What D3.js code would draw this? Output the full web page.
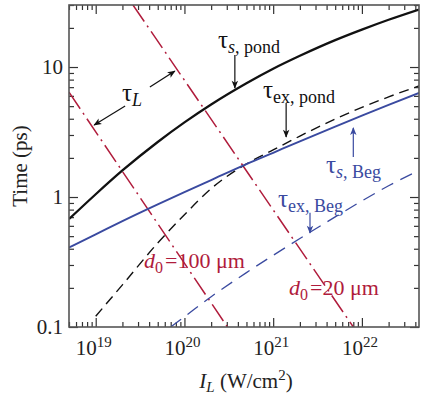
<!DOCTYPE html>
<html>
<head>
<meta charset="utf-8">
<script src="https://cdn.jsdelivr.net/npm/d3@7"></script>
<style>
body{margin:0;background:#fff;}
text{font-family:"Liberation Serif","Times New Roman",serif;}
</style>
</head>
<body>
<div id="chart"></div>
<script>
// valores: intensidad (W/cm2) y tiempos (ps)
var intensidad = [5e18,1e19,2e19,5e19,1e20,2e20,5e20,1e21,2e21,5e21,1e22,2e22,4.4e22];
var tauSPond   = [0.676,1.05,1.6,2.65,3.75,5.15,7.5,9.7,12.2,16.1,19.4,23.1,27.7];
var tauSBeg    = [0.409,0.516,0.652,0.877,1.09,1.35,1.79,2.19,2.68,3.48,4.23,5.12,6.32];

var intensidadExPond = [1e19,2e19,5e19,1e20,2e20,5e20,1e21,2e21,5e21,1e22,2e22,4.4e22];
var tauExPond        = [0.121,0.211,0.443,0.73,1.16,1.8,2.3,2.94,3.98,4.9,5.89,7.16];

var intensidadExBeg = [7e19,1e20,2e20,5e20,1e21,2e21,5e21,1e22,2e22,4.4e22];
var tauExBeg        = [0.1,0.12,0.171,0.262,0.356,0.479,0.703,0.933,1.22,1.6];

// tau_L para d0 = 100 um y d0 = 20 um (rectas en log-log)
var intensidadL100 = [5e18,3.05e20];
var tauL100        = [6.4,0.1];
var intensidadL20  = [2.63e19,8.0e21];
var tauL20         = [30,0.1];

var ticksX = [1e19,1e20,1e21,1e22];
var etiquetasX = ["19","20","21","22"];
var ticksY = [0.1,1,10];
var etiquetasY = ["0.1","1","10"];

var W = 421, H = 398;
var m = {l:69, t:5, r:2, b:71};
var ancho = W - m.l - m.r;
var alto = H - m.t - m.b;

var rojo = "#b01c3c", azul = "#3a4aa0";

var svg = d3.select("#chart").append("svg")
	.attr("width", W)
	.attr("height", H)
	.attr("font-family", "Liberation Serif, Times New Roman, serif");

var x = d3.scaleLog().domain([5e18, 4.4e22]).range([m.l, m.l + ancho]);
var y = d3.scaleLog().domain([0.1, 30]).range([m.t + alto, m.t]);

var defs = svg.append("defs");
defs.append("clipPath").attr("id","area")
	.append("rect").attr("x", m.l).attr("y", m.t).attr("width", ancho).attr("height", alto);
[["flechaNegra","#111"],["flechaAzul",azul]].forEach(function(f){
	defs.append("marker")
		.attr("id", f[0])
		.attr("viewBox","0 0 10 10")
		.attr("refX", 9).attr("refY", 5)
		.attr("markerWidth", 10).attr("markerHeight", 8)
		.attr("markerUnits","userSpaceOnUse")
		.attr("orient","auto")
		.append("path").attr("d","M0,1 L10,5 L0,9 L2.5,5 Z").attr("fill", f[1]);
});

// ticks (hacia adentro, en los cuatro lados)
var menoresX = x.ticks().filter(function(d){ return ticksX.indexOf(d) < 0; });
var menoresY = y.ticks().filter(function(d){ return [0.1,1,10].indexOf(+d.toPrecision(3)) < 0; });

function ejes(g){ g.selectAll("path").remove(); g.selectAll("line").attr("stroke","#333").attr("stroke-width",1.2); }

svg.append("g").attr("transform","translate(0,"+(m.t+alto)+")")
	.call(d3.axisBottom(x).tickValues(ticksX).tickSize(-9).tickFormat("")).call(ejes);
svg.append("g").attr("transform","translate(0,"+(m.t+alto)+")")
	.call(d3.axisBottom(x).tickValues(menoresX).tickSize(-5).tickFormat("")).call(ejes);
svg.append("g").attr("transform","translate(0,"+m.t+")")
	.call(d3.axisTop(x).tickValues(ticksX).tickSize(-9).tickFormat("")).call(ejes);
svg.append("g").attr("transform","translate(0,"+m.t+")")
	.call(d3.axisTop(x).tickValues(menoresX).tickSize(-5).tickFormat("")).call(ejes);
svg.append("g").attr("transform","translate("+m.l+",0)")
	.call(d3.axisLeft(y).tickValues(ticksY).tickSize(-9).tickFormat("")).call(ejes);
svg.append("g").attr("transform","translate("+m.l+",0)")
	.call(d3.axisLeft(y).tickValues(menoresY).tickSize(-5).tickFormat("")).call(ejes);
svg.append("g").attr("transform","translate("+(m.l+ancho)+",0)")
	.call(d3.axisRight(y).tickValues(ticksY).tickSize(-9).tickFormat("")).call(ejes);
svg.append("g").attr("transform","translate("+(m.l+ancho)+",0)")
	.call(d3.axisRight(y).tickValues(menoresY).tickSize(-5).tickFormat("")).call(ejes);

// etiquetas de los ejes
svg.selectAll(".tx").data(ticksX).enter().append("text")
	.attr("class","tx")
	.attr("x", function(d){ return x(d) - 2; })
	.attr("y", m.t + alto + 28)
	.attr("text-anchor","middle")
	.attr("font-size","21px")
	.attr("fill","#222")
	.each(function(d, i){
		var t = d3.select(this);
		t.append("tspan").text("10");
		t.append("tspan").attr("dy",-8).attr("font-size","15px").text(etiquetasX[i]);
	});

svg.selectAll(".ty").data(ticksY).enter().append("text")
	.attr("class","ty")
	.attr("x", m.l - 6)
	.attr("y", function(d){ return y(d) + 7; })
	.attr("text-anchor","end")
	.attr("font-size","21px")
	.attr("fill","#222")
	.text(function(d, i){ return etiquetasY[i]; });

svg.append("text")
	.attr("transform","translate(27,166) rotate(-90)")
	.attr("text-anchor","middle")
	.attr("font-size","21px")
	.attr("fill","#222")
	.text("Time (ps)");

var tituloX = svg.append("text")
	.attr("x", m.l + ancho/2 + 2)
	.attr("y", H - 10)
	.attr("text-anchor","middle")
	.attr("font-size","21px")
	.attr("fill","#222");
tituloX.append("tspan").attr("font-style","italic").text("I");
tituloX.append("tspan").attr("font-style","italic").attr("font-size","15px").attr("dy",4).text("L");
tituloX.append("tspan").attr("dy",-4).text(" (W/cm");
tituloX.append("tspan").attr("font-size","15px").attr("dy",-8).text("2");
tituloX.append("tspan").attr("dy",8).text(")");

// curvas
var linea = d3.line()
	.x(function(d){ return x(d[0]); })
	.y(function(d){ return y(d[1]); })
	.curve(d3.curveMonotoneX);

var plot = svg.append("g").attr("clip-path","url(#area)");

function curva(xs, ys, color, grosor, guiones){
	plot.append("path")
		.datum(d3.zip(xs, ys))
		.attr("d", linea)
		.attr("fill","none")
		.attr("stroke", color)
		.attr("stroke-width", grosor)
		.attr("stroke-dasharray", guiones);
}

curva(intensidadL100, tauL100, rojo, 1.5, "20,5,2,5");
curva(intensidadL20, tauL20, rojo, 1.5, "20,5,2,5");
curva(intensidadExBeg, tauExBeg, azul, 1.3, "13,8");
curva(intensidadExPond, tauExPond, "#111", 1.4, "10,6");
curva(intensidad, tauSBeg, azul, 1.9, null);
curva(intensidad, tauSPond, "#111", 2.3, null);

// marco
svg.append("rect")
	.attr("x", m.l).attr("y", m.t)
	.attr("width", ancho).attr("height", alto)
	.attr("fill","none")
	.attr("stroke","#555")
	.attr("stroke-width",1.6);

// anotaciones: punta de flecha en coordenadas de datos, cola y texto en pixeles
function tau(px, py, sub, color, cursiva){
	var t = svg.append("text")
		.attr("x", px).attr("y", py)
		.attr("font-size","25px")
		.attr("fill", color);
	t.append("tspan").text("\u03c4");
	var s = t.append("tspan").attr("dy",5).attr("font-size","18px");
	if (cursiva){
		s.append("tspan").attr("font-style","italic").text(cursiva);
	}
	s.append("tspan").text(sub);
}
function flecha(I, T, dx, dy, marca, color){
	svg.append("line")
		.attr("x1", x(I) + dx).attr("y1", y(T) + dy)
		.attr("x2", x(I)).attr("y2", y(T))
		.attr("stroke", color)
		.attr("stroke-width",1.2)
		.attr("marker-end","url(#"+marca+")");
}

tau(122, 101, "", "#111", "L");
flecha(7.8e19, 9.3, -25, 16, "flechaNegra", "#111");
flecha(9.6e18, 3.58, 31, -19, "flechaNegra", "#111");

tau(218, 48, ", pond", "#111", "s");
flecha(3.7e20, 6.9, 0, -33, "flechaNegra", "#111");

tau(263, 98, "ex, pond", "#111", null);
flecha(1.4e21, 2.9, 0, -34, "flechaNegra", "#111");

tau(326, 173, ", Beg", azul, "s");
flecha(8.0e21, 3.4, 0, 29, "flechaAzul", azul);

tau(278, 207, "ex, Beg", azul, null);
flecha(2.6e21, 0.53, 0, -20, "flechaAzul", azul);

function d0(px, py, valor){
	var t = svg.append("text")
		.attr("x", px).attr("y", py)
		.attr("font-size","22px")
		.attr("fill", rojo);
	t.append("tspan").attr("font-style","italic").text("d");
	t.append("tspan").attr("dy",5).attr("font-size","16px").text("0");
	t.append("tspan").attr("dy",-5).attr("dx",2).text("=" + valor + " \u03bcm");
}
d0(144, 268, "100");
d0(289, 295, "20");
</script>
</body>
</html>
